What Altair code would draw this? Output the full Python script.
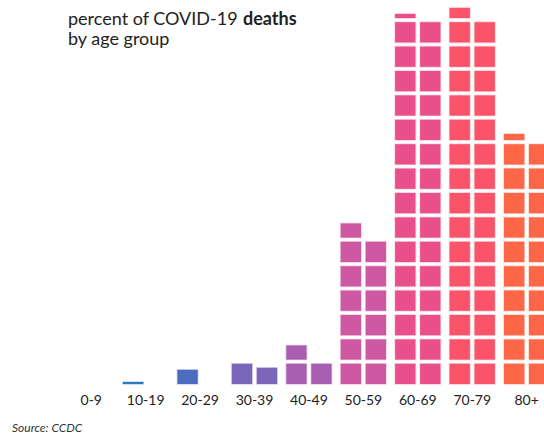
import altair as alt
import pandas as pd

# ---- data ----
groups = ["0-9", "10-19", "20-29", "30-39", "40-49", "50-59", "60-69", "70-79", "80+"]
percent = [0.0, 0.1, 0.7, 1.8, 2.7, 12.7, 30.2, 30.5, 20.3]
colors = ["#2b7bc0", "#2a7bbf", "#4b6cbf", "#7b67b9", "#a95fb1",
          "#cf58a3", "#e9508a", "#fa536a", "#fe6648"]
title_regular = ["percent of COVID-19", "by age group"]
title_bold = "deaths"
source = "Source: CCDC"

# one block per 1 %, filled row by row, two blocks per row
block_rows = []
for gi, (g, p) in enumerate(zip(groups, percent)):
    tenths = round(p * 10)
    k = 0
    while tenths > 0:
        block_rows.append(dict(group=g, gi=gi, col=k % 2, row=k // 2,
                               frac=min(10, tenths) / 10))
        tenths -= 10
        k += 1
blocks_df = pd.DataFrame(block_rows)
labels_df = pd.DataFrame({"group": groups, "gi": list(range(len(groups)))})

x_scale = alt.Scale(domain=[-1.2594, 8.735], nice=False, zero=False)
y_scale = alt.Scale(domain=[-2.213, 15.738], nice=False, zero=False)
color_scale = alt.Scale(domain=groups, range=colors)

blocks = (
    alt.Chart(blocks_df)
    .transform_calculate(
        x0="datum.gi + datum.col * 0.4593",
        x1="datum.gi + datum.col * 0.4593 + 0.373",
        y0="datum.row",
        y1="datum.row + datum.frac * 0.828",
    )
    .mark_rect(clip=True, strokeWidth=1.5, strokeOpacity=0.3)
    .encode(
        x=alt.X("x0:Q", scale=x_scale, axis=None),
        x2="x1:Q",
        y=alt.Y("y0:Q", scale=y_scale, axis=None),
        y2="y1:Q",
        color=alt.Color("group:N", scale=color_scale, legend=None),
        stroke=alt.Stroke("group:N", scale=color_scale, legend=None),
    )
)

labels = (
    alt.Chart(labels_df)
    .transform_calculate(xc="datum.gi + 0.4168")
    .mark_text(font="Lato", fontSize=14, color="#222222", baseline="alphabetic", align="center")
    .encode(x=alt.X("xc:Q", scale=x_scale, axis=None), y=alt.value(405), text="group:N")
)

t1 = (
    alt.Chart(pd.DataFrame({"t": [title_regular[0]]}))
    .mark_text(font="Lato", fontSize=18, color="#222222", align="left", baseline="alphabetic")
    .encode(x=alt.value(68), y=alt.value(24.5), text="t:N")
)
t1b = (
    alt.Chart(pd.DataFrame({"t": [title_bold]}))
    .mark_text(font="Lato", fontSize=18, fontWeight="bold", color="#222222", align="left", baseline="alphabetic")
    .encode(x=alt.value(243), y=alt.value(24.5), text="t:N")
)
t2 = (
    alt.Chart(pd.DataFrame({"t": [title_regular[1]]}))
    .mark_text(font="Lato", fontSize=18, color="#222222", align="left", baseline="alphabetic")
    .encode(x=alt.value(68), y=alt.value(44.5), text="t:N")
)
src = (
    alt.Chart(pd.DataFrame({"t": [source]}))
    .mark_text(font="Lato", fontSize=12, fontStyle="italic", color="#333333", align="left", baseline="alphabetic")
    .encode(x=alt.value(12), y=alt.value(432), text="t:N")
)

chart = (
    alt.layer(blocks, labels, t1, t1b, t2, src)
    .properties(width=544, height=438, padding=0, autosize=alt.AutoSizeParams(type="none"))
    .configure_view(stroke=None)
)

chart.save("out.html", embed_options={"renderer": "svg", "actions": False})
